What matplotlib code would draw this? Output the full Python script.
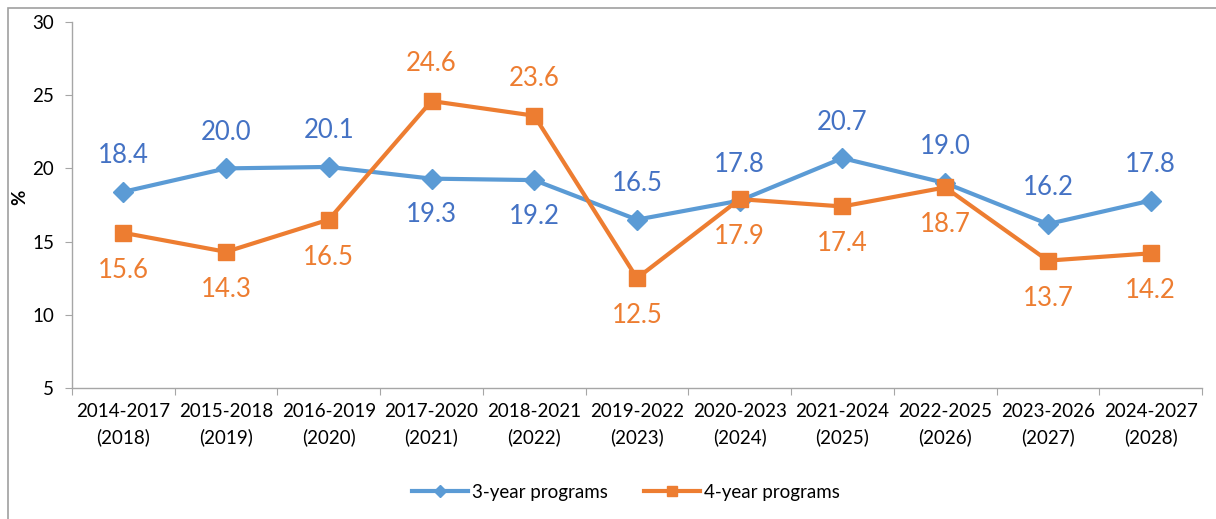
import numpy as np
import matplotlib
matplotlib.use('Agg')
import matplotlib.pyplot as plt
from matplotlib.patches import Rectangle

plt.rcParams['font.family'] = ['Lato', 'DejaVu Sans']

categories = ['2014-2017\n(2018)', '2015-2018\n(2019)', '2016-2019\n(2020)', '2017-2020\n(2021)',
              '2018-2021\n(2022)', '2019-2022\n(2023)', '2020-2023\n(2024)', '2021-2024\n(2025)',
              '2022-2025\n(2026)', '2023-2026\n(2027)', '2024-2027\n(2028)']
three_year = [18.4, 20.0, 20.1, 19.3, 19.2, 16.5, 17.8, 20.7, 19.0, 16.2, 17.8]
four_year = [15.6, 14.3, 16.5, 24.6, 23.6, 12.5, 17.9, 17.4, 18.7, 13.7, 14.2]

# label above (+1) or below (-1) the point
three_side = [1, 1, 1, -1, -1, 1, 1, 1, 1, 1, 1]
four_side = [-1, -1, -1, 1, 1, -1, -1, -1, -1, -1, -1]

BLUE = '#5B9BD5'
BLUE_TXT = '#4472C4'
ORANGE = '#ED7D31'
GRID = '#A6A6A6'

fig = plt.figure(figsize=(12.16, 5.19), dpi=100)
ax = fig.add_axes([72/1216, 1 - 388/519, (1202 - 72)/1216, (388 - 22)/519])

x = np.arange(len(categories))
ax.plot(x, three_year, color=BLUE, lw=3, marker='D', ms=10, label='3-year programs', zorder=3)
ax.plot(x, four_year, color=ORANGE, lw=3, marker='s', ms=12, label='4-year programs', zorder=3)

for xi, v, s in zip(x, three_year, three_side):
    ax.annotate(f'{v:.1f}', (xi, v), xytext=(0, 26 * s), textcoords='offset points',
                ha='center', va='center', fontsize=18.5, color=BLUE_TXT)
for xi, v, s in zip(x, four_year, four_side):
    ax.annotate(f'{v:.1f}', (xi, v), xytext=(0, 27 * s), textcoords='offset points',
                ha='center', va='center', fontsize=18.5, color=ORANGE)

ax.set_xlim(-0.5, len(categories) - 0.5)
ax.set_ylim(5, 30)
ax.set_yticks(range(5, 31, 5))
ax.set_xticks(np.arange(len(categories) + 1) - 0.5)
ax.set_xticklabels([])
ax.set_xticks(x, minor=True)
ax.set_xticklabels(categories, minor=True, linespacing=1.55)
ax.tick_params(axis='x', which='minor', length=0, pad=11, labelsize=13.5)
ax.tick_params(axis='x', which='major', length=5, color=GRID)
ax.tick_params(axis='y', length=5, color=GRID, labelsize=13.5, pad=8)

for side in ['top', 'right']:
    ax.spines[side].set_visible(False)
for side in ['left', 'bottom']:
    ax.spines[side].set_color(GRID)
    ax.spines[side].set_linewidth(1)

ax.set_ylabel('%', fontsize=13.5, fontweight='bold')
ax.yaxis.set_label_coords(-0.039, 0.52)

ax.legend(loc='center', bbox_to_anchor=(0.49, -0.285), ncol=2, frameon=False,
          fontsize=13.5, handlelength=3.0, columnspacing=1.9, markerscale=0.6, handletextpad=0.2)

fig.patches.append(Rectangle((8/1216, -0.1), 1.2, 1 - 8/519 + 0.1, transform=fig.transFigure,
                             fill=False, edgecolor='#A0A0A0', lw=1.2))

fig.savefig('out.png', dpi=100)
